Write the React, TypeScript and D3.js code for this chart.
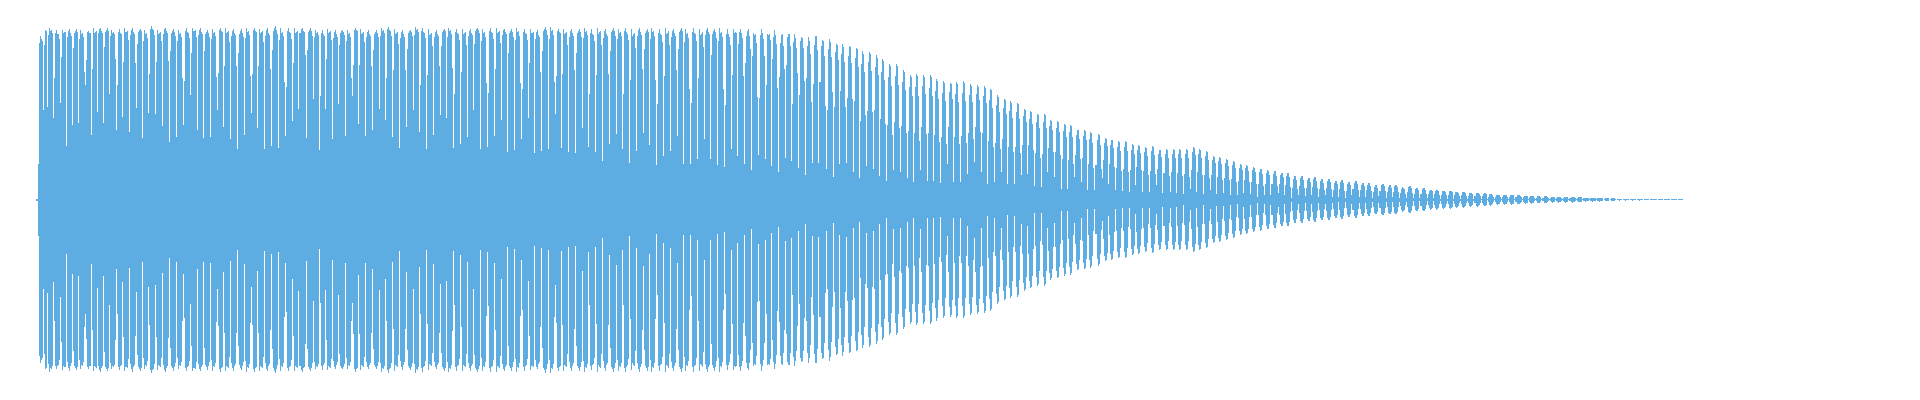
import { area, curveStepAfter, range, scaleLinear, select } from 'd3'
import { useEffect, useRef } from 'react'

// one entry per beat of the waveform: where it starts, how high it gets,
// and how far the short dip in front of it reaches
const beatTimes = [
  -2, 0,
  4.7, 9.3, 15.3, 22, 28, 34.3, 40.3, 46.7, 53, 59.3, 65.3, 71.3, 78.3, 84.3, 91, 97.7, 104, 110.3, 117, 124.3,
  131.3, 138.3, 145.3, 152, 158.7, 165.3, 172.3, 178.7, 185.3, 192.3, 199.3, 206, 213, 219.3, 226.3, 233, 240.3, 247, 253.7, 260.3,
  268, 274.7, 281.3,
  287, 294.3, 300.3, 307.3, 314, 320.3, 327.3, 334.3, 341.3, 347.3, 354.3, 361.3, 368, 374.7, 381.3, 388.3, 395.3, 402.3, 408.3, 415.3,
  422.3, 429.3, 435.3, 442.3, 449.3, 456.3, 463, 469.3, 476.3, 483.3, 490.3, 496.3, 503.3, 510.3, 516.7, 523.3, 530.3,
  537, 544, 550.3, 557.3, 564.3, 571.3, 577.7, 584.3, 591.3, 598, 605, 611.3, 618.3, 625.3, 632, 638.7, 645.3, 652.3, 658.7, 666,
  672.3, 679.3, 686.3, 692.7, 699.3, 706.3, 713.3, 720, 726.7, 733.3, 740.3, 746.7, 753.3, 760.3, 767, 774, 780.3,
  788, 794.7, 801.3, 808, 814.7, 821.3, 828, 834.7, 841.3, 848, 855.3, 862, 868.7, 875.3, 882, 888.7, 895.3, 902, 908.7, 915.3,
  922, 928.7, 936, 942.7, 949.3, 956, 963.3, 969.3, 976, 982.7, 989.3, 996, 1002.7, 1009.3, 1016, 1022.7, 1029.3, 1036, 1042.7, 1049.3, 1056,
  1064, 1070.3, 1077.3, 1083.7, 1091, 1097.3, 1104.3, 1110.7, 1117.7, 1124.3, 1131.7, 1137.7, 1145, 1151.7, 1157.7, 1164.7, 1171.7, 1178.3, 1185.3, 1191.7,
  1199, 1205.3, 1212.3, 1218.7, 1226.3, 1232.3, 1239.7, 1245.7, 1253.3, 1259.7, 1266.7, 1272.7, 1279.7, 1286.7, 1293.7, 1300, 1307.3, 1313.3, 1320.7, 1327, 1334, 1340.3, 1347.7, 1354.3,
  1361.3, 1368, 1374.7, 1381.3, 1388.7, 1394.7, 1402, 1408.7, 1415.3, 1422, 1429.3, 1435.3, 1442.7, 1448.7, 1456.3, 1462.7, 1469.7, 1476.3, 1483.7, 1489.7,
  1497, 1503.3, 1510.7, 1517, 1524.3, 1530.3, 1537.7, 1544, 1551, 1557.7, 1564.7, 1571, 1578, 1584.3, 1591.3, 1597.7, 1605.3, 1611.3, 1618.7, 1624.7, 1632, 1638.7,
]

const beatPeaks = [
  1,
  166, 171, 172, 169.5, 170, 171, 170.5, 169.5, 169, 171.5, 172, 171.5, 169.5, 170.5, 171.5, 172, 171, 169.5, 173.5, 170,
  172, 171, 169.5, 171.5, 171.5, 171.5, 170, 171, 172, 171.5, 171, 170.5, 172, 172, 171, 171.5, 173.5, 171.5, 171.5, 171.5,
  172, 171.5, 169.5, 170,
  170.5, 169.5, 169.5, 169.5, 172, 170.5, 169.5, 169.5, 172, 173, 171, 170, 170, 173, 172, 170.5, 169.5, 171, 172, 171,
  171, 171, 172, 171, 172, 172, 171, 171, 172, 171, 170.5, 169.5, 173, 173, 171, 171, 171,
  171, 172, 170.5, 172, 171, 172, 171, 172, 170.5, 172, 171, 172, 171, 172, 171, 172, 171, 172, 171, 172,
  171, 172, 170.5, 172, 171, 171, 169.5, 171, 169.5, 169.5, 166, 168.5, 166, 166, 163, 164.5, 161.5,
  161, 158, 156, 154.5, 153, 148.5, 148.5, 144.5, 141, 135.5, 135.5, 129.5, 124.5, 125.5, 124.5, 124.5, 121, 118.5, 117, 118,
  118.5, 115.5, 114.5, 113.5, 111, 104.5, 100.5, 98.5, 97, 91, 88.5, 86, 86, 80, 78.5, 76, 75, 70, 69.5, 68, 66,
  61.8, 60, 58.5, 58.5, 55.5, 54.5, 52.5, 53.5, 50, 50.5, 50.5, 50.5, 50.5, 52.5, 50.5, 48.5, 43.5, 42.5, 40.5, 38.5,
  35.5, 34.5, 32.5, 31, 29.5, 28.5, 26.5, 26.5, 23.5, 23.5, 21.5, 22.5, 20.5, 20.5, 18.5, 19.5, 17.5, 18.5, 16.5, 16.5, 14.5, 15.5, 14.5, 14.5,
  12.2, 13.5, 11.5, 11.5, 10, 10, 9, 9, 8, 8, 7, 7, 6.5, 6, 5, 5, 5, 4.5, 4, 4,
  3.5, 3.5, 3, 3, 3, 3, 2.5, 2, 2, 2, 1.5, 1.5, 1, 1, 1, 1, 0.5, 0.5, 0.5, 0.5, 0.5, 0.5,
]

const beatFloors = [
  1, 36,
  89.5, 93, 82, 97, 54, 74.5, 76.5, 114.5, 64.5, 88, 76.5, 105.5, 69.5, 82.5, 68, 92, 62, 87, 85.5, 73.5,
  58, 62.5, 74.5, 104.5, 69.5, 62, 63, 89.5, 72.5, 61, 50.5, 64.5, 87, 71.5, 51, 54, 52, 63.5, 79, 91,
  61.5, 101, 49.5,
  90.5, 60.5, 95.5, 63.5, 103.5, 75.5, 63.5, 69.5, 90.5, 79.5, 62.5, 51.5, 72.5, 89.5, 67.5, 50.5, 64.5, 84.5, 81.5, 51.5,
  55.5, 62.5, 89.5, 50.5, 52.5, 63.5, 79.5, 47.5, 49.5, 60.5, 81.5, 46.5, 48.5, 50.5, 85.5, 51.5, 47.5,
  46.8, 71.5, 52.5, 47.5, 38.5, 55.5, 65.5, 50.5, 36.5, 48.5, 66.5, 54.5, 34.5, 43.5, 48.5, 63.5, 35.5, 35.5, 40.5, 60.5,
  40.5, 34.5, 32.5, 50.5, 43.5, 35.5, 29.5, 44.5, 40.5, 33.5, 27.5, 41.5, 38.5, 31.5, 24.5, 36.5, 37,
  31, 23, 35.5, 37, 28, 22, 33.5, 31, 24, 18.5, 29.5, 28, 22, 18, 29.5, 18.5, 18.5, 17, 36, 18,
  18, 26, 38, 28, 16, 18, 28, 15.5, 16, 24.5, 26, 13.5, 13, 28, 23, 11, 11, 23, 18, 9.5, 9.5,
  21.5, 16, 9.5, 8.5, 8, 14.5, 8, 8, 14.5, 7, 8, 7, 5.5, 10.5, 8, 5.5, 9.5, 6, 6.5, 5,
  4.5, 7, 5.5, 3, 4.5, 5, 7, 4.5, 2, 4.5, 3.5, 4.5, 3, 4.5, 3, 2.5, 2, 4.5, 3, 3, 2, 3.5, 2, 2.5,
  2, 2, 1.5, 1.5, 1.5, 1.5, 1, 1, 1, 1, 1, 1, 0.5, 0.5, 0.5, 0.5, 0.5, 0.5, 0.5, 0.5,
  0.5, 0.5, 0.5, 0.5, 0.5, 0.5, 0.5, 0.5, 0.5, 0.5, 0, 0, 0, 0, 0, 0, 0, 0, 0, 0, 0, 0,
]

const endTime = 1645

// how a beat rises from its dip to its peak, column by column
const clippedShapes = [
  [0.62, 1, 0.95, 0.96, 0.97, 0.86],
  [0.93, 0.98, 1, 0.96, 0.94, 0.66],
  [0.8, 0.96, 0.98, 1, 0.97, 0.93],
  [0.9, 1, 0.96, 0.97, 0.93, 0.55],
  [0.45, 0.97, 1, 0.96, 0.95, 0.9],
]
const openShape = [0.45, 0.88, 1, 0.98, 0.8, 0.38]

export default function App() {
  const svgRef = useRef<SVGSVGElement>(null)

  useEffect(() => {
    const svg = select(svgRef.current)
    svg.selectAll('*').remove()

    const x = scaleLinear().domain([-2, endTime]).range([36, 1683])
    const y = scaleLinear().domain([-173, 173]).range([372.5, 26.5])
    // the loud part is clipped flat, the fade-out is not
    const openness = scaleLinear().domain([680, 860]).range([0, 1]).clamp(true)

    const columns: { px: number; amp: number }[] = []
    beatTimes.forEach((t, i) => {
      const start = Math.round(x(t))
      const end = Math.round(x(i + 1 < beatTimes.length ? beatTimes[i + 1] : endTime))
      const clipped = clippedShapes[i % clippedShapes.length]
      const mix = openness(t)
      range(start, end).forEach((px) => {
        const j = px - start
        if (j === 0) {
          columns.push({ px, amp: beatFloors[i] })
          return
        }
        const k = Math.min(5, Math.floor(((j - 1) / Math.max(1, end - start - 1)) * 6))
        const shape = clipped[k] * (1 - mix) + openShape[k] * mix
        const amp = beatFloors[i] + (beatPeaks[i] - beatFloors[i]) * shape
        // the tail never gets thinner than one pixel
        columns.push({ px, amp: Math.max(amp, 0.5) })
      })
    })
    columns.push({ px: x(endTime), amp: 0 })

    const wave = area<{ px: number; amp: number }>()
      .x((d) => d.px)
      .y0((d) => y(-d.amp))
      .y1((d) => y(d.amp))
      .curve(curveStepAfter)

    svg
      .append('path')
      .attr('d', wave(columns))
      .attr('fill', '#5dade2')
      .attr('shape-rendering', 'crispEdges')
  }, [])

  return (
    <svg
      ref={svgRef}
      width={1920}
      height={400}
      style={{ position: 'absolute', left: 0, top: 0, background: '#fff' }}
    />
  )
}
